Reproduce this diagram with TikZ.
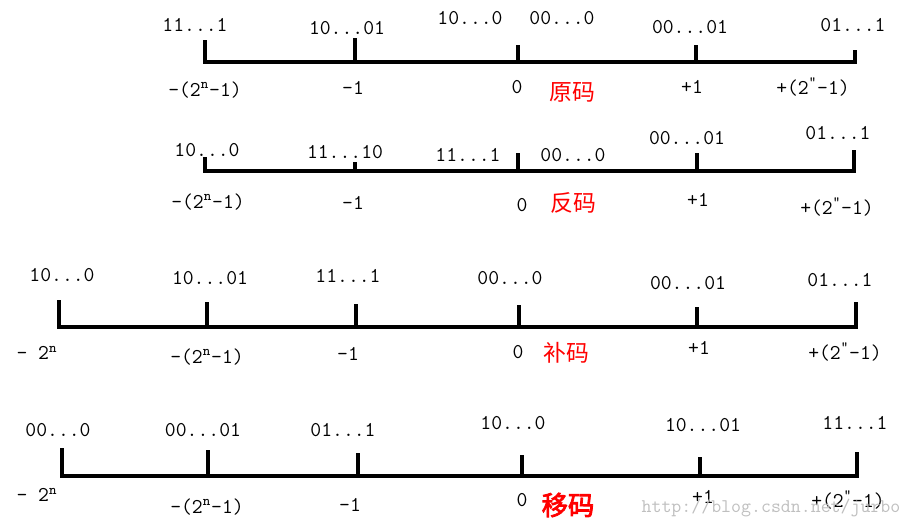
\documentclass[tikz,border=0pt]{standalone}
\usepackage{fontspec}
\newfontfamily\cjk{Noto Sans CJK SC}
\newfontfamily\cjkb[AutoFakeBold=3]{Noto Sans CJK SC}
\tikzset{
  axis/.style={line width=1.9pt, line join=miter},
  code/.style={font=\fontsize{12}{14}\ttfamily, inner sep=0pt},
  kind/.style={text=red, font=\fontsize{13}{15}\cjk, inner sep=0pt},
}
\begin{document}
\begin{tikzpicture}[x=0.02cm, y=-0.02cm]
\useasboundingbox (0,0) rectangle (912,529);
% row 1
\coordinate (a1) at (205,40);
\coordinate (a2) at (355,38);
\coordinate (a3) at (518,45);
\coordinate (a4) at (696,45);
\coordinate (a5) at (855,50);
\coordinate (ab) at (205,62);
\draw[axis] (a1) -- (ab) -- (a5 |- ab) -- (a5);
\draw[axis] (a2) -- (a2 |- ab);
\draw[axis] (a3) -- (a3 |- ab);
\draw[axis] (a4) -- (a4 |- ab);
\node[code] (a1u) at (195,25) {11...1};
\node[code] (a2u) at (347,28) {10...01};
\node[code] (a3u) at (470,18) {10...0};
\node[code] (a3v) at (562,18) {00...0};
\node[code] (a4u) at (690,27) {00...01};
\node[code] (a5u) at (853,25) {01...1};
\node[code] (a1d) at (205,90) {-(2\textsuperscript{n}-1)};
\node[code] (a2d) at (353,88) {-1};
\node[code] (a3d) at (517,87) {0};
\node[kind] (aname) at (572,92) {原码};
\node[code] (a4d) at (692,87) {+1};
\node[code] (a5d) at (813,87) {+(2\textsuperscript{"}-1)};
% row 2
\coordinate (b1) at (205,157);
\coordinate (b2) at (355,162);
\coordinate (b3) at (518,153);
\coordinate (b4) at (697,153);
\coordinate (b5) at (854,150);
\coordinate (bb) at (205,171);
\draw[axis] (b1) -- (bb) -- (b5 |- bb) -- (b5);
\draw[axis] (b2) -- (b2 |- bb);
\draw[axis] (b3) -- (b3 |- bb);
\draw[axis] (b4) -- (b4 |- bb);
\node[code] (b1u) at (207,150) {10...0};
\node[code] (b2u) at (345,152) {11...10};
\node[code] (b3u) at (468,155) {11...1};
\node[code] (b3v) at (573,155) {00...0};
\node[code] (b4u) at (687,138) {00...01};
\node[code] (b5u) at (838,133) {01...1};
\node[code] (b1d) at (208,202) {-(2\textsuperscript{n}-1)};
\node[code] (b2d) at (353,203) {-1};
\node[code] (b3d) at (522,205) {0};
\node[kind] (bname) at (573,203) {反码};
\node[code] (b4d) at (698,200) {+1};
\node[code] (b5d) at (837,207) {+(2\textsuperscript{"}-1)};
% row 3
\coordinate (c0) at (59,300);
\coordinate (c1) at (207,302);
\coordinate (c2) at (356,304);
\coordinate (c3) at (519,305);
\coordinate (c4) at (697,307);
\coordinate (c5) at (856,302);
\coordinate (cb) at (59,327);
\draw[axis] (c0) -- (cb) -- (c5 |- cb) -- (c5);
\draw[axis] (c1) -- (c1 |- cb);
\draw[axis] (c2) -- (c2 |- cb);
\draw[axis] (c3) -- (c3 |- cb);
\draw[axis] (c4) -- (c4 |- cb);
\node[code] (c0u) at (62,275) {10...0};
\node[code] (c1u) at (210,278) {10...01};
\node[code] (c2u) at (348,276) {11...1};
\node[code] (c3u) at (510,278) {00...0};
\node[code] (c4u) at (688,283) {00...01};
\node[code] (c5u) at (840,280) {01...1};
\node[code] (c0d) at (37,353) {- 2\textsuperscript{n}};
\node[code] (c1d) at (207,357) {-(2\textsuperscript{n}-1)};
\node[code] (c2d) at (348,354) {-1};
\node[code] (c3d) at (518,352) {0};
\node[kind] (cname) at (566,353) {补码};
\node[code] (c4d) at (699,348) {+1};
\node[code] (c5d) at (845,352) {+(2\textsuperscript{"}-1)};
% row 4
\coordinate (d0) at (62,448);
\coordinate (d1) at (208,450);
\coordinate (d2) at (358,453);
\coordinate (d3) at (522,455);
\coordinate (d4) at (700,457);
\coordinate (d5) at (857,452);
\coordinate (db) at (62,476);
\draw[axis] (d0) -- (db) -- (d5 |- db) -- (d5);
\draw[axis] (d1) -- (d1 |- db);
\draw[axis] (d2) -- (d2 |- db);
\draw[axis] (d3) -- (d3 |- db);
\draw[axis] (d4) -- (d4 |- db);
\node[code] (d0u) at (58,430) {00...0};
\node[code] (d1u) at (203,430) {00...01};
\node[code] (d2u) at (343,430) {01...1};
\node[code] (d3u) at (513,423) {10...0};
\node[code] (d4u) at (703,425) {10...01};
\node[code] (d5u) at (855,423) {11...1};
\node[code] (d0d) at (37,495) {- 2\textsuperscript{n}};
\node[code] (d1d) at (207,507) {-(2\textsuperscript{n}-1)};
\node[code] (d2d) at (350,505) {-1};
\node[code] (d3d) at (522,500) {0};
\node[kind, font=\fontsize{15}{17}\cjkb\bfseries] (dname) at (568,505) {移码};
\node[code] (d4d) at (703,497) {+1};
\node[code] (d5d) at (848,500) {+(2\textsuperscript{"}-1)};
\node[code, text=black!25, font=\fontsize{11}{13}\ttfamily] (mark) at (771,508) {http://blog.csdn.net/jurbo};
\end{tikzpicture}
\end{document}
